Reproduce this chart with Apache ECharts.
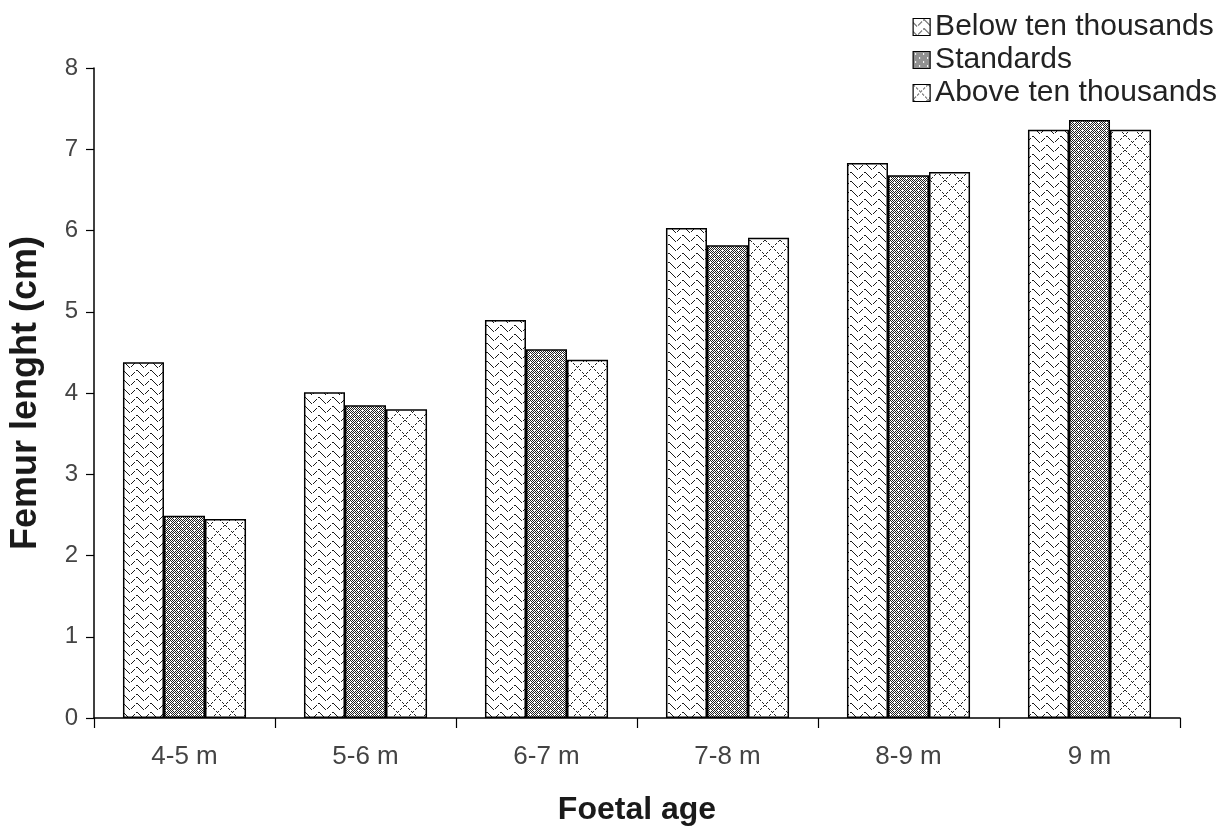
<!DOCTYPE html>
<html><head><meta charset="utf-8">
<script src="https://cdn.jsdelivr.net/npm/echarts@6/dist/echarts.min.js"></script>
<style>html,body{margin:0;padding:0;background:#fff}#c{width:1231px;height:836px}</style>
</head><body><div id="c"></div>
<script>
const categories = ['4-5 m','5-6 m','6-7 m','7-8 m','8-9 m','9 m'];
const below = [4.38, 4.01, 4.90, 6.03, 6.83, 7.24];
const standards = [2.49, 3.85, 4.54, 5.82, 6.68, 7.36];
const above = [2.45, 3.80, 4.41, 5.91, 6.72, 7.24];
const seriesNames = ['Below ten thousands','Standards','Above ten thousands'];

function mk(w,h){const c=document.createElement('canvas');c.width=w;c.height=h;const x=c.getContext('2d');x.fillStyle='#fff';x.fillRect(0,0,w,h);return [c,x];}
function wave(){const [c,x]=mk(14,9);x.fillStyle='#1a1a1a';
  for(let i=0;i<14;i++){ if(i%5===4) continue; const y=Math.round(4+2.6*Math.sin(2*Math.PI*i/14)); x.fillRect(i,y,1,1);} return c;}
function dots(){const [c,x]=mk(8,8);x.fillStyle='#222';
  for(let i=0;i<8;i++)for(let j=0;j<8;j++){ if((i+j)%2===0) x.fillRect(i,j,1,1);} x.fillStyle='#fff'; x.fillRect(2,2,1,1); x.fillRect(6,6,1,1); return c;}
function diamond(){const [c,x]=mk(15,15);x.fillStyle='#222';
  for(let i=0;i<15;i++){ if(i%3!==2){x.fillRect(i,i,1,1); x.fillRect(14-i,i,1,1);} } return c;}
const pats=[wave(),dots(),diamond()];
const data=[below,standards,above];

const chart=echarts.init(document.getElementById('c'));
chart.setOption({
  animation:false,
  backgroundColor:'#fff',
  textStyle:{fontFamily:'Liberation Sans, Arial, sans-serif'},
  grid:{left:93,right:51,top:68,bottom:118},
  legend:{
    orient:'vertical', right:9, top:7, itemGap:3, itemWidth:17, itemHeight:17, icon:'rect',
    textStyle:{fontSize:30,color:'#222',fontFamily:'Liberation Sans, Arial, sans-serif'},
    itemStyle:{borderColor:'#000',borderWidth:1.2},
    data:seriesNames
  },
  xAxis:{
    type:'category', data:categories,
    name:'Foetal age', nameLocation:'middle', nameGap:76,
    nameTextStyle:{fontSize:32,fontWeight:'bold',color:'#1a1a1a'},
    axisLine:{lineStyle:{color:'#000',width:1.5}},
    axisTick:{show:true,length:10,lineStyle:{color:'#000',width:1.2}},
    axisLabel:{fontSize:26,color:'#444',margin:26}
  },
  yAxis:{
    type:'value', min:0, max:8, interval:1,
    name:'Femur lenght (cm)', nameLocation:'middle', nameGap:50,
    nameTextStyle:{fontSize:36,fontWeight:'bold',color:'#1a1a1a'},
    axisLine:{show:true,lineStyle:{color:'#000',width:1.5}},
    axisTick:{show:true,length:8,lineStyle:{color:'#000',width:1.2}},
    axisLabel:{fontSize:24,color:'#444',margin:16},
    splitLine:{show:false}
  },
  series:seriesNames.map((n,i)=>({
    name:n, type:'bar', data:data[i],
    barGap:'0%', barCategoryGap:'32%',
    itemStyle:{color:{image:pats[i],repeat:'repeat'},borderColor:'#000',borderWidth:1.5}
  }))
});
</script></body></html>
